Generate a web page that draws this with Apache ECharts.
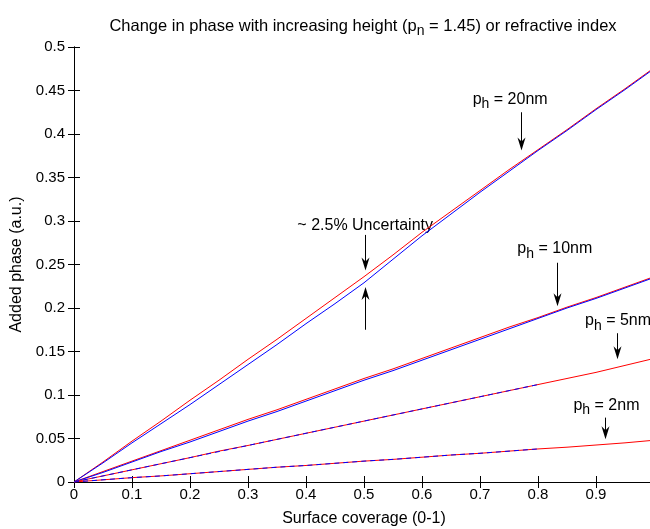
<!DOCTYPE html>
<html>
<head>
<meta charset="utf-8">
<script src="https://cdn.jsdelivr.net/npm/echarts@6/dist/echarts.min.js"></script>
<style>
html, body { margin: 0; padding: 0; background: #fff; }
#main { width: 650px; height: 529px; }
</style>
</head>
<body>
<div id="main"></div>
<script>
// surface coverage (x) and added phase values
var coverage = [0, 0.05, 0.1, 0.15, 0.2, 0.25, 0.3, 0.35, 0.4, 0.45, 0.5,
                0.55, 0.6, 0.65, 0.7, 0.75, 0.8, 0.85, 0.9, 0.95, 1];
var red20  = [0, 0.023, 0.047, 0.070, 0.094, 0.117, 0.141, 0.164, 0.188, 0.212, 0.236,
              0.261, 0.287, 0.311, 0.335, 0.359, 0.382, 0.405, 0.429, 0.452, 0.476];
var blue20 = [0, 0.022, 0.045, 0.067, 0.089, 0.112, 0.135, 0.158, 0.182, 0.205, 0.229,
              0.256, 0.283, 0.308, 0.333, 0.357, 0.381, 0.404, 0.428, 0.451, 0.475];
var red10  = [0, 0.012, 0.024, 0.036, 0.048, 0.060, 0.072, 0.083, 0.095, 0.107, 0.119,
              0.130, 0.142, 0.154, 0.166, 0.178, 0.189, 0.201, 0.212, 0.224, 0.236];
var blue10 = [0, 0.011, 0.023, 0.035, 0.046, 0.058, 0.070, 0.081, 0.093, 0.105, 0.117,
              0.128, 0.140, 0.152, 0.164, 0.176, 0.188, 0.200, 0.211, 0.223, 0.235];
var red5   = [0, 0.007, 0.014, 0.021, 0.028, 0.0355, 0.042, 0.049, 0.056, 0.063, 0.070,
              0.077, 0.084, 0.091, 0.098, 0.105, 0.112, 0.119, 0.126, 0.134, 0.142];
var blue5  = [0, 0.007, 0.014, 0.021, 0.028, 0.035, 0.042, 0.049, 0.056, 0.063, 0.070,
              0.077, 0.084, 0.091, 0.098, 0.105, 0.112];
var red2   = [0, 0.0025, 0.005, 0.007, 0.0095, 0.012, 0.0145, 0.017, 0.019, 0.0215, 0.024,
              0.026, 0.0285, 0.031, 0.033, 0.0355, 0.038, 0.040, 0.0425, 0.045, 0.048];
var blue2  = [0, 0.0025, 0.005, 0.007, 0.0095, 0.012, 0.0145, 0.017, 0.019, 0.0215, 0.024,
              0.026, 0.0285, 0.031, 0.033, 0.0355, 0.038];

var xTicks = { min: 0, max: 1, interval: 0.1 };
var yTicks = { min: 0, max: 0.5, interval: 0.05 };

// annotations: label text, label centre, arrow x, arrow start y, arrow tip y (data units)
var notes = [
    { text: 'p{s|h} = 20nm', at: [0.752, 0.440], ax: 0.770, y1: 0.425, y2: 0.381 },
    { text: '~ 2.5% Uncertainty', at: [0.502, 0.295], ax: 0.502, y1: 0.284, y2: 0.243 },
    { text: '', at: null, ax: 0.502, y1: 0.175, y2: 0.224 },
    { text: 'p{s|h} = 10nm', at: [0.829, 0.268], ax: 0.833, y1: 0.252, y2: 0.202 },
    { text: 'p{s|h} = 5nm', at: [0.938, 0.185], ax: 0.936, y1: 0.171, y2: 0.141 },
    { text: 'p{s|h} = 2nm', at: [0.918, 0.088], ax: 0.916, y1: 0.074, y2: 0.049 }
];

function pairs(xs, ys) {
    return ys.map(function (v, i) { return [xs[i], v]; });
}

var font = 'Liberation Sans, Arial, sans-serif';
var chart = echarts.init(document.getElementById('main'));

function line(data, color, dashed) {
    return {
        type: 'line',
        data: data,
        showSymbol: false,
        symbol: 'none',
        silent: true,
        lineStyle: { color: color, width: 1, type: dashed ? [5, 4] : 'solid' }
    };
}

var axisCommon = {
    type: 'value',
    axisLine: { show: true, lineStyle: { color: '#000', width: 1 } },
    axisTick: { show: true, inside: true, length: 6, lineStyle: { color: '#000' } },
    splitLine: { show: false }
};

var option = {
    animation: false,
    backgroundColor: '#fff',
    title: {
        text: 'Change in phase with increasing height (p{s|n} = 1.45) or refractive index',
        left: 358,
        top: 9,
        textAlign: 'center',
        textStyle: {
            fontFamily: font, fontSize: 16.5, fontWeight: 'normal', color: '#000',
            rich: { s: { fontFamily: font, fontSize: 14, color: '#000', padding: [10, 0, 0, 0] } }
        }
    },
    grid: { left: 74, top: 47, right: -4, bottom: 47, outerBoundsMode: 'none', containLabel: false },
    xAxis: [
        Object.assign({}, axisCommon, {
            min: xTicks.min, max: xTicks.max, interval: xTicks.interval,
            position: 'bottom',
            name: 'Surface coverage (0-1)',
            nameLocation: 'middle',
            nameGap: 29,
            nameTextStyle: { fontFamily: font, fontSize: 16, color: '#000' },
            axisLabel: { fontFamily: font, fontSize: 15, color: '#000', margin: 5 }
        }),
        Object.assign({}, axisCommon, {
            min: xTicks.min, max: xTicks.max, interval: xTicks.interval,
            position: 'top',
            axisLabel: { show: false }
        })
    ],
    yAxis: [
        Object.assign({}, axisCommon, {
            min: yTicks.min, max: yTicks.max, interval: yTicks.interval,
            position: 'left',
            name: 'Added phase (a.u.)',
            nameLocation: 'middle',
            nameGap: 47,
            nameTextStyle: { fontFamily: font, fontSize: 16, color: '#000' },
            axisLabel: { fontFamily: font, fontSize: 15, color: '#000', margin: 9 }
        }),
        Object.assign({}, axisCommon, {
            min: yTicks.min, max: yTicks.max, interval: yTicks.interval,
            position: 'right',
            axisLabel: { show: false }
        })
    ],
    series: [
        line(pairs(coverage, red20), '#ff0000'),
        line(pairs(coverage, blue20), '#0000ff'),
        line(pairs(coverage, red10), '#ff0000'),
        line(pairs(coverage, blue10), '#0000ff'),
        line(pairs(coverage, red5), '#ff0000'),
        line(pairs(coverage, blue5), '#0000ff', true),
        line(pairs(coverage, red2), '#ff0000'),
        line(pairs(coverage, blue2), '#0000ff', true)
    ]
};
chart.setOption(option);

// arrows and labels placed from data coordinates
var g = [];
notes.forEach(function (n) {
    var p1 = chart.convertToPixel({ gridIndex: 0 }, [n.ax, n.y1]);
    var p2 = chart.convertToPixel({ gridIndex: 0 }, [n.ax, n.y2]);
    var dir = p2[1] > p1[1] ? 1 : -1;
    var x = Math.round(p1[0]) + 0.5;
    g.push({
        type: 'line', silent: true,
        shape: { x1: x, y1: p1[1], x2: x, y2: p2[1] - dir * 6 },
        style: { stroke: '#000', lineWidth: 1 }
    });
    g.push({
        type: 'polygon', silent: true,
        shape: { points: [[x, p2[1]], [x - 4, p2[1] - dir * 13], [x, p2[1] - dir * 9], [x + 4, p2[1] - dir * 13]] },
        style: { fill: '#000' }
    });
    if (n.at) {
        var c = chart.convertToPixel({ gridIndex: 0 }, n.at);
        g.push({
            type: 'text', silent: true,
            x: c[0], y: c[1],
            style: {
                text: n.text, fill: '#000', font: '16px ' + font,
                align: 'center', verticalAlign: 'middle',
                rich: { s: { fontFamily: font, fontSize: 14, fill: '#000', padding: [10, 0, 0, 0] } }
            }
        });
    }
});
chart.setOption({ graphic: g });
</script>
</body>
</html>
